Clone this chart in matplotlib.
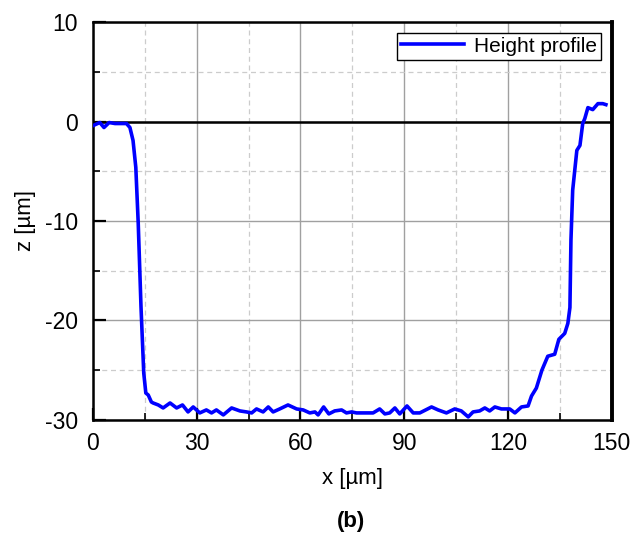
import matplotlib
matplotlib.use("Agg")
import matplotlib.pyplot as plt
import matplotlib.ticker as mticker
import numpy as np

plt.rcParams['font.family'] = ['Liberation Sans', 'DejaVu Sans']
plt.rcParams['axes.unicode_minus'] = False

# profile
x_um = [0.1, 2.0, 3.2, 4.7, 6.4, 7.8, 9.7, 10.7, 11.6, 12.4, 13.1, 13.9, 14.7, 15.3,
        16.0, 16.9, 17.4, 18.9, 20.3, 22.3, 24.2, 25.9, 27.5, 29.0, 30.9, 32.8,
        34.3, 35.7, 37.7, 40.1, 42.5, 44.4, 45.9, 47.3, 49.2, 50.7, 52.1, 54.0,
        56.4, 58.9, 60.8, 62.7, 64.2, 65.1, 66.7, 68.2, 69.9, 71.9, 73.3, 74.8,
        76.2, 79.1, 81.0, 82.9, 84.4, 85.8, 87.3, 88.7, 90.8, 92.6, 94.5, 97.9,
        99.8, 102.2, 104.6, 106.5, 108.5, 109.9, 111.8, 113.3, 114.7, 116.2,
        118.1, 120.5, 122.0, 123.9, 125.8, 126.8, 128.2, 129.8, 131.5, 133.5,
        134.7, 136.4, 137.3, 137.9, 138.2, 138.7, 139.9, 140.8, 141.6, 142.2,
        143.1, 144.5, 146.0, 147.4, 148.3]
z_um = [-0.4, -0.1, -0.6, -0.1, -0.2, -0.2, -0.2, -0.6, -1.9, -4.6, -10.2, -18.6,
        -25.3, -27.3, -27.5, -28.2, -28.3, -28.5, -28.8, -28.3, -28.8, -28.5,
        -29.2, -28.7, -29.3, -29.0, -29.3, -29.0, -29.5, -28.8, -29.1, -29.2,
        -29.3, -28.9, -29.2, -28.7, -29.2, -28.9, -28.5, -28.9, -29.0, -29.3,
        -29.2, -29.5, -28.7, -29.4, -29.1, -29.0, -29.3, -29.2, -29.3, -29.3,
        -29.3, -28.9, -29.4, -29.3, -28.8, -29.4, -28.6, -29.3, -29.3, -28.7,
        -29.0, -29.3, -28.9, -29.1, -29.7, -29.2, -29.1, -28.8, -29.1, -28.7,
        -28.9, -28.9, -29.3, -28.7, -28.6, -27.6, -26.8, -25.0, -23.6, -23.4,
        -21.9, -21.3, -20.3, -18.7, -11.9, -6.9, -2.9, -2.4, -0.2, 0.3, 1.4,
        1.2, 1.8, 1.8, 1.7]

x_major = [0, 30, 60, 90, 120, 150]
y_major = [10, 0, -10, -20, -30]

fig = plt.figure(figsize=(6.32, 5.39), dpi=100)
ax = fig.add_axes([0.147, 0.221, 0.821, 0.738])

ax.set_xlim(0, 150)
ax.set_ylim(-30, 10)
ax.xaxis.set_major_locator(mticker.FixedLocator(x_major))
ax.xaxis.set_minor_locator(mticker.MultipleLocator(15))
ax.yaxis.set_major_locator(mticker.FixedLocator(y_major))
ax.yaxis.set_minor_locator(mticker.MultipleLocator(5))

ax.grid(which='major', color='#a0a0a0', linestyle='-', linewidth=1.0)
ax.grid(which='minor', color='#cccccc', linestyle=(0, (4, 3)), linewidth=0.9)
ax.set_axisbelow(True)

ax.axhline(0, color='black', linewidth=1.8, zorder=2)
ax.plot(x_um, z_um, color='#0000ff', linewidth=2.6, label='Height profile', zorder=3)

ax.tick_params(which='both', direction='in', top=False, right=False,
               labelsize=16.5, colors='black')
ax.tick_params(which='major', length=9, width=1.6)
ax.tick_params(which='minor', length=5, width=1.2)
ax.tick_params(axis='y', which='major', pad=11)
ax.tick_params(axis='x', which='major', pad=9)

for side in ['left', 'bottom', 'top']:
    ax.spines[side].set_linewidth(1.8)
ax.spines['right'].set_linewidth(2.8)

ax.set_xlabel('x [µm]', fontsize=16, labelpad=9)
ax.set_ylabel('z [µm]', fontsize=16, labelpad=6)

leg = ax.legend(loc='upper right', fontsize=15, fancybox=False, framealpha=1,
                edgecolor='black', borderaxespad=0.5, handlelength=3.0,
                borderpad=0.2, handletextpad=0.5)
leg.get_frame().set_linewidth(1.0)

fig.text(0.555, 0.032, '(b)', ha='center', va='center', fontsize=16, fontweight='bold')

fig.savefig('out.png', dpi=100)
